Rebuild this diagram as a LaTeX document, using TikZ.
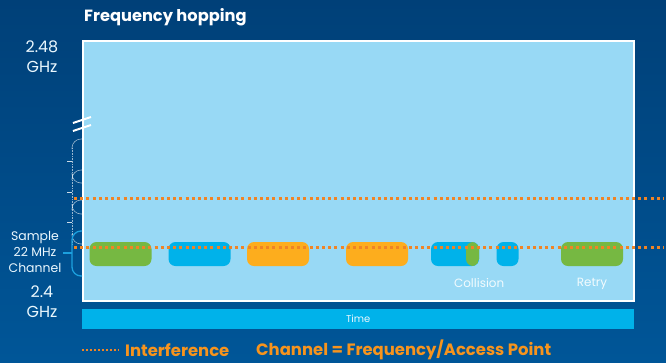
\documentclass[tikz,border=0pt]{standalone}
\usepackage{fontspec}
\setmainfont{Poppins}
\usetikzlibrary{positioning}

\definecolor{bgTop}{RGB}{0,64,120}
\definecolor{bgBot}{RGB}{0,86,152}
\definecolor{panelBlue}{RGB}{152,217,245}
\definecolor{barGreen}{RGB}{118,184,66}
\definecolor{barBlue}{RGB}{0,178,234}
\definecolor{barOrange}{RGB}{253,173,29}
\definecolor{dotOrange}{RGB}{240,132,36}
\definecolor{legOrange}{RGB}{247,148,29}
\definecolor{chanBlue}{RGB}{28,160,222}

\begin{document}
\begin{tikzpicture}[
  x=1bp, y=-1bp,
  axis/.style={text=white!92!cyan, align=center, inner sep=0pt,
    font=\fontsize{16}{20}\selectfont},
  bar/.style={rounded corners=7bp, minimum width=#1, minimum height=24bp,
    inner sep=0pt},
  note/.style={text=white!95!cyan, inner sep=0pt, font=\fontsize{12}{14}\selectfont},
  chan/.style={white, opacity=0.6, line width=0.6bp},
  interf/.style={dotOrange, line width=3bp, dash pattern=on 3bp off 3.2bp},
  legend/.style={text=legOrange, inner sep=0pt, anchor=west,
    font=\fontsize{16.5}{19}\bfseries\selectfont},
]

% ---- Background and bounding box ------------------------------------------
\useasboundingbox (0,0) rectangle (666,362);
\shade[top color=bgTop, bottom color=bgBot] (0,0) rectangle (666,362);

\node[text=white, anchor=west, inner sep=0pt,
  font=\fontsize{16.3}{19}\bfseries\selectfont] (title) at (84,17)
  {Frequency hopping};

% ---- Plot area and time axis -----------------------------------------------
\node[draw=white, line width=1.5bp, fill=panelBlue, anchor=north west,
  minimum width=551bp, minimum height=260bp, inner sep=0pt] (plot) at (82,40) {};
\node[fill=barBlue, anchor=north west, minimum width=552bp, minimum height=20bp,
  inner sep=0pt, text=white!92!cyan, font=\fontsize{10}{12}\selectfont]
  (timebar) at (82,309) {Time};

% ---- Frequency labels ------------------------------------------------------
\node[axis] (ftop) at (42,57) {2.48\\GHz};
\node[axis] (fbot) at (42,302) {2.4\\GHz};
\node[axis, font=\fontsize{12.5}{16}\selectfont] (sample) at (35,252)
  {Sample\\22 MHz\\Channel};

% ---- Axis break --------------------------------------------------------------
\draw[white, line width=2bp] (73,123) -- (91,117);
\draw[white, line width=2bp] (73,131) -- (91,125);

% ---- Overlapping channels (22 MHz each) --------------------------------------
\foreach \c in {161,192,222}{
  \draw[chan, rounded corners=9bp] (82,\c-22) -- (72,\c-22) -- (72,\c-12);
  \draw[chan, rounded corners=9bp] (72,\c+12) -- (72,\c+22) -- (82,\c+22);
  \draw[chan, opacity=0.8] (67,\c) -- (72,\c);
}
\draw[chan, densely dotted] (72,148) -- (72,244);
\draw[chanBlue, line width=1.3bp, rounded corners=9bp]
  (82,231) -- (72,231) -- (72,276) -- (82,276);
\draw[chanBlue, line width=1.3bp] (63,253) -- (72,253);

% ---- Hops in time ------------------------------------------------------------
\node[bar=62bp, fill=barGreen]  (hop1) at (120.5,254) {};
\node[bar=62bp, fill=barBlue]   (hop2) at (199.5,254) {};
\node[bar=62bp, fill=barOrange] (hop3) at (278,254) {};
\node[bar=62bp, fill=barOrange] (hop4) at (377,254) {};
\node[bar=48bp, fill=barBlue,
  path picture={\fill[barGreen] ([xshift=-13bp]path picture bounding box.north east)
    rectangle (path picture bounding box.south east);}] (collision) at (455,254) {};
\node[bar=22bp, fill=barBlue]   (hop6) at (507.5,254) {};
\node[bar=62bp, fill=barGreen]  (retry) at (592,254) {};

\node[note, below=12bp of collision.south east] (collisionlbl) {Collision};
\node[note, below=12bp of retry.south] (retrylbl) {Retry};

% ---- Interference ------------------------------------------------------------
\coordinate (noiseA) at (74,198);
\coordinate (noiseAend) at (664,198);
\coordinate (noiseB) at (74,247);
\coordinate (noiseBend) at (664,247);
\draw[interf] (noiseA) -- (noiseAend);
\draw[interf] (noiseB) -- (noiseBend);

% ---- Legend ------------------------------------------------------------------
\coordinate (keyA) at (82,350);
\coordinate (keyB) at (119,350);
\draw[dotOrange, line width=2bp, dash pattern=on 2bp off 2bp] (keyA) -- (keyB);
\node[legend] (interflbl) at (125,350) {Interference};
\node[legend] (chanlbl) at (256,350) {Channel = Frequency/Access Point};

\end{tikzpicture}
\end{document}
